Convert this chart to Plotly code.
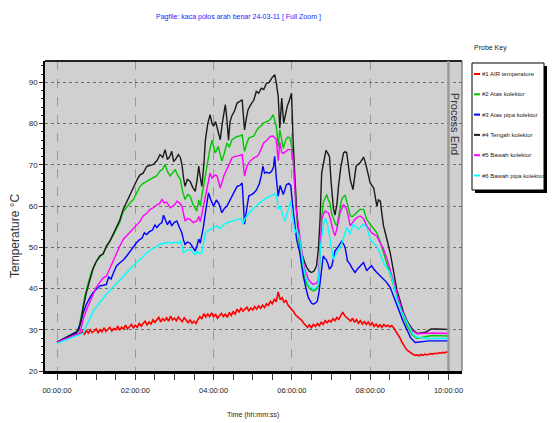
import plotly.graph_objects as go

# ---------------- data (time in hours, temperature in °C) ----------------
tick_hours = [0, 2, 4, 6, 8, 10]
tick_labels = ["00:00:00", "02:00:00", "04:00:00", "06:00:00", "08:00:00", "10:00:00"]
y_ticks = [20, 30, 40, 50, 60, 70, 80, 90]
process_end_hour = 10.0

series_names = ["#1 AIR temperature", "#2 Atas kolektor", "#3 Atas pipa kolektor",
                "#4 Tengah kolektor", "#5 Bawah kolektor", "#6 Bawah pipa kolektor"]
series_colors = ["#ff0000", "#00c800", "#0000ff", "#1a1a1a", "#ff00ff", "#00ffff"]

air_t = [round(i * 0.05, 2) for i in range(201)]
air_v = [27.0, 27.2, 27.4, 27.6, 27.8, 28.0, 28.1, 28.3, 28.4, 28.6,
         28.8, 28.9, 29.0, 29.6, 28.9, 29.8, 29.2, 30.0, 29.3, 29.7,
         30.2, 29.3, 30.0, 29.5, 30.5, 29.6, 30.0, 30.6, 29.7, 30.3,
         30.0, 30.9, 29.9, 30.6, 30.2, 31.1, 30.2, 30.8, 31.3, 30.5,
         31.1, 30.6, 31.6, 30.9, 31.5, 32.1, 31.2, 31.9, 31.4, 32.4,
         31.8, 32.3, 33.0, 31.9, 32.7, 32.2, 32.9, 32.1, 33.3, 32.4,
         32.8, 32.2, 33.1, 32.5, 32.0, 32.9, 32.3, 31.7, 32.4, 31.6,
         32.1, 31.5, 32.5, 33.2, 32.6, 33.9, 33.1, 33.8, 33.2, 34.1,
         33.1, 33.8, 32.8, 33.5, 34.0, 33.2, 33.8, 33.0, 34.2, 33.5,
         34.4, 33.8, 35.0, 34.3, 35.2, 34.5, 34.9, 35.5, 34.6, 35.3,
         34.8, 35.6, 35.0, 35.8, 35.2, 36.0, 35.4, 36.3, 35.9, 36.9,
         36.3, 37.4, 36.8, 39.2, 37.3, 37.8, 36.7, 37.1, 36.0, 35.5,
         34.9, 34.3, 33.5, 33.1, 32.5, 32.3, 31.6, 31.1, 30.6, 31.2,
         30.5, 31.3, 30.8, 31.5, 31.0, 31.8, 31.3, 32.2, 31.7, 32.3,
         31.9, 32.7, 32.2, 33.0, 32.5, 33.5, 34.3, 33.4, 32.9, 32.5,
         32.1, 32.8, 31.8, 32.5, 31.6, 32.2, 31.4, 32.0, 31.3, 31.9,
         31.1, 31.7, 30.8, 31.4, 30.7, 31.2, 30.6, 31.3, 30.8, 31.1,
         30.7, 31.0, 30.5, 29.7, 29.0, 28.2, 27.2, 26.3, 25.6, 25.0,
         24.6, 24.3, 24.0, 23.8, 23.9, 23.7, 24.0, 23.8, 24.1, 23.9,
         24.0, 24.2, 24.1, 24.3, 24.2, 24.4, 24.3, 24.5, 24.4, 24.6,
         24.6]

atas_t = [0, 0.1, 0.2, 0.3, 0.4, 0.5, 0.55, 0.6, 0.65, 0.72, 0.8, 0.88, 0.95, 1.02, 1.09, 1.18,
          1.26, 1.35, 1.45, 1.52, 1.6, 1.69, 1.78, 1.87, 1.95, 2.04, 2.12, 2.2, 2.29, 2.38, 2.46,
          2.55, 2.63, 2.7, 2.76, 2.82, 2.89, 2.95, 3.02, 3.08, 3.15, 3.21, 3.27, 3.34, 3.4, 3.47,
          3.53, 3.57, 3.62, 3.66, 3.7, 3.74, 3.83, 3.9, 3.96, 4.04, 4.12, 4.21, 4.28, 4.34, 4.4,
          4.47, 4.53, 4.6, 4.67, 4.73, 4.76, 4.79, 4.84, 4.9, 4.97, 5.03, 5.09, 5.15, 5.22, 5.28,
          5.36, 5.45, 5.52, 5.6, 5.65, 5.69, 5.74, 5.78, 5.84, 5.9, 5.95, 6.02, 6.08, 6.14, 6.2,
          6.25, 6.32, 6.38, 6.45, 6.55, 6.62, 6.67, 6.7, 6.73, 6.76, 6.8, 6.85, 6.89, 6.93, 6.97,
          7.02, 7.06, 7.12, 7.15, 7.2, 7.27, 7.32, 7.36, 7.42, 7.49, 7.55, 7.61, 7.68, 7.74, 7.83,
          7.91, 8.0, 8.09, 8.17, 8.25, 8.34, 8.42, 8.51, 8.6, 8.68, 8.8, 8.94, 9.07, 9.2, 9.3,
          9.4, 9.5, 9.6, 9.75, 10.0]
atas_v = [27.0, 27.5, 28.0, 28.5, 28.9, 29.3, 30.0, 32.5, 35.0, 38.5, 41.5, 44.0, 45.5, 46.8, 47.6, 48.6,
          50.0, 51.4, 53.2, 54.6, 56.0, 58.6, 59.8, 60.8, 61.6, 63.5, 64.8, 65.5, 66.0, 66.3, 66.9,
          67.4, 68.5, 69.0, 70.1, 68.4, 67.3, 68.0, 68.9, 67.5, 66.5, 63.5, 61.6, 62.8, 62.4, 60.5,
          59.5, 58.8, 61.5, 60.0, 62.5, 64.8, 69.7, 73.5, 76.0, 72.9, 74.5, 70.9, 73.0, 75.3, 74.3,
          76.1, 76.5, 76.9, 77.0, 77.3, 75.0, 73.3, 75.0, 76.5, 76.8, 77.0, 78.2, 79.0, 79.5, 80.2,
          80.5, 81.0, 82.2, 79.5, 74.5, 78.5, 76.0, 74.0, 76.0, 76.8, 76.5, 73.5, 64.0, 55.5, 50.0,
          46.3, 43.0, 41.0, 40.0, 39.4, 39.8, 40.6, 44.0, 50.3, 56.8, 60.8, 62.0, 62.8, 61.5, 60.8,
          58.0, 56.8, 55.5, 55.2, 57.5, 61.6, 62.3, 62.6, 60.5, 57.6, 57.5, 58.0, 58.8, 59.2, 59.2,
          56.8, 55.6, 54.4, 53.5, 51.5, 48.7, 46.5, 43.9, 41.0, 38.2, 34.5, 31.0, 28.8, 27.9, 28.1,
          28.4, 28.5, 28.6, 28.5, 28.5]

pipa_t = [0, 0.1, 0.2, 0.3, 0.4, 0.5, 0.58, 0.67, 0.75, 0.84, 0.92, 1.0, 1.09, 1.18, 1.26, 1.32,
          1.38, 1.45, 1.52, 1.6, 1.7, 1.78, 1.86, 1.95, 2.03, 2.1, 2.17, 2.23, 2.29, 2.36, 2.44,
          2.5, 2.55, 2.62, 2.68, 2.72, 2.76, 2.82, 2.88, 2.93, 2.99, 3.06, 3.12, 3.19, 3.23, 3.27,
          3.33, 3.4, 3.47, 3.53, 3.58, 3.62, 3.66, 3.7, 3.74, 3.79, 3.87, 3.93, 4.0, 4.07, 4.14,
          4.21, 4.28, 4.34, 4.4, 4.47, 4.53, 4.6, 4.67, 4.73, 4.76, 4.79, 4.84, 4.9, 4.97, 5.03,
          5.1, 5.17, 5.22, 5.26, 5.3, 5.35, 5.42, 5.48, 5.53, 5.56, 5.6, 5.65, 5.7, 5.74, 5.78,
          5.82, 5.86, 5.92, 5.97, 6.02, 6.07, 6.12, 6.2, 6.29, 6.36, 6.42, 6.5, 6.55, 6.62, 6.65,
          6.69, 6.72, 6.76, 6.8, 6.84, 6.87, 6.92, 6.96, 7.02, 7.06, 7.1, 7.19, 7.27, 7.32, 7.36,
          7.42, 7.48, 7.53, 7.61, 7.68, 7.74, 7.83, 7.91, 7.97, 8.04, 8.1, 8.17, 8.25, 8.34, 8.42,
          8.51, 8.6, 8.68, 8.77, 8.85, 8.95, 9.03, 9.15, 9.26, 9.37, 9.5, 9.7, 10.0]
pipa_v = [27.0, 27.4, 27.9, 28.3, 28.8, 29.3, 31.0, 34.2, 36.2, 37.8, 39.0, 39.8, 40.6, 40.8, 41.0, 42.8,
          42.3, 44.0, 45.5, 46.2, 47.0, 47.9, 49.0, 50.0, 51.1, 51.8, 52.2, 53.5, 53.1, 53.8, 54.2,
          55.5, 54.8, 55.6, 56.0, 57.8, 56.8, 55.5, 56.5, 55.2, 56.0, 56.4, 55.0, 53.5, 51.8, 50.7,
          51.3, 51.0, 50.0, 49.1, 50.5, 52.0, 51.0, 52.7, 55.0, 58.4, 63.2, 61.5, 60.0, 61.5, 60.5,
          58.4, 59.5, 60.0, 61.0, 62.4, 63.5, 64.8, 65.0, 65.6, 60.0, 55.6, 59.0, 62.5, 62.8, 63.2,
          64.0, 65.5, 67.5, 69.7, 68.0, 68.2, 68.0, 68.4, 69.5, 72.1, 67.0, 62.4, 65.0, 64.0, 62.8,
          64.0, 65.2, 65.5, 65.0, 60.0, 56.5, 52.0, 48.7, 43.1, 40.0, 37.8, 36.5, 36.2, 36.6, 37.0,
          39.0, 41.5, 45.0, 47.9, 47.3, 47.1, 46.0, 44.7, 45.5, 47.5, 49.1, 50.3, 51.5, 50.8, 49.9,
          46.7, 46.0, 45.1, 43.9, 44.8, 45.5, 46.3, 44.3, 45.0, 45.5, 44.6, 43.9, 43.2, 42.3, 41.5,
          40.3, 38.0, 35.8, 33.6, 31.8, 29.8, 28.1, 26.9, 27.0, 27.2, 27.3, 27.3, 27.3]

tengah_t = [0, 0.1, 0.2, 0.3, 0.4, 0.5, 0.55, 0.62, 0.67, 0.75, 0.84, 0.92, 1.0, 1.09, 1.18, 1.26,
            1.35, 1.45, 1.52, 1.6, 1.69, 1.78, 1.87, 1.95, 2.05, 2.12, 2.2, 2.29, 2.38, 2.46, 2.55,
            2.63, 2.7, 2.76, 2.82, 2.88, 2.93, 2.98, 3.04, 3.1, 3.15, 3.19, 3.23, 3.27, 3.33, 3.4,
            3.47, 3.53, 3.58, 3.62, 3.66, 3.7, 3.75, 3.79, 3.85, 3.91, 3.96, 4.0, 4.05, 4.1, 4.17,
            4.22, 4.3, 4.34, 4.38, 4.42, 4.47, 4.53, 4.6, 4.67, 4.73, 4.76, 4.79, 4.84, 4.88, 4.95,
            5.03, 5.09, 5.15, 5.22, 5.28, 5.35, 5.42, 5.48, 5.56, 5.6, 5.65, 5.69, 5.74, 5.79, 5.84,
            5.88, 5.93, 5.99, 6.03, 6.08, 6.12, 6.18, 6.25, 6.32, 6.38, 6.44, 6.5, 6.57, 6.63, 6.68,
            6.72, 6.76, 6.82, 6.87, 6.92, 6.96, 7.0, 7.02, 7.06, 7.1, 7.15, 7.19, 7.25, 7.32, 7.36,
            7.4, 7.45, 7.49, 7.56, 7.6, 7.64, 7.7, 7.74, 7.8, 7.83, 7.88, 7.91, 7.96, 8.0, 8.09,
            8.13, 8.17, 8.21, 8.26, 8.3, 8.34, 8.4, 8.45, 8.51, 8.6, 8.68, 8.77, 8.85, 8.95, 9.07,
            9.2, 9.3, 9.42, 9.5, 9.56, 9.7, 9.85, 10.0]
tengah_v = [27.0, 27.5, 28.0, 28.6, 29.0, 29.4, 29.8, 32.5, 35.5, 39.0, 42.3, 44.8, 46.5, 47.9, 48.4, 50.3,
            51.5, 53.6, 55.0, 56.5, 59.2, 61.0, 63.2, 64.8, 66.5, 67.6, 68.0, 69.6, 69.8, 70.1, 71.0,
            72.5, 71.8, 73.7, 71.3, 72.0, 73.3, 70.8, 71.5, 72.5, 71.8, 70.1, 67.0, 64.8, 66.5, 66.0,
            64.5, 63.6, 66.5, 69.7, 67.0, 64.8, 70.0, 76.0, 80.0, 82.2, 80.0, 79.4, 80.5, 78.5, 76.1,
            80.0, 84.6, 81.0, 76.0, 80.5, 82.0, 83.0, 85.0, 85.4, 85.8, 82.0, 78.5, 81.5, 83.4, 84.6,
            85.8, 87.8, 87.4, 88.6, 88.3, 89.8, 90.0, 91.0, 91.9, 90.0, 86.6, 78.9, 86.2, 80.1, 82.5,
            84.2, 85.5, 87.4, 76.0, 67.0, 59.0, 53.0, 48.7, 46.5, 45.1, 44.2, 43.9, 44.3, 45.5, 50.0,
            57.0, 68.0, 71.5, 73.5, 72.8, 72.0, 66.0, 63.0, 59.5, 57.8, 60.5, 64.8, 69.5, 72.9, 73.2,
            72.9, 69.5, 66.5, 64.0, 67.0, 69.7, 70.2, 70.5, 71.4, 71.9, 70.5, 69.3, 67.0, 65.6, 64.4,
            62.0, 60.0, 61.5, 61.2, 58.0, 55.2, 53.0, 51.0, 48.7, 44.0, 39.8, 36.8, 34.2, 32.0, 30.2,
            29.1, 29.2, 29.4, 29.9, 30.2, 30.2, 30.1, 30.1]

bawah_t = [0, 0.1, 0.2, 0.3, 0.4, 0.5, 0.58, 0.63, 0.67, 0.75, 0.84, 0.92, 1.0, 1.09, 1.18, 1.26,
           1.35, 1.44, 1.52, 1.6, 1.69, 1.8, 1.95, 2.05, 2.12, 2.2, 2.3, 2.38, 2.46, 2.55, 2.62,
           2.68, 2.74, 2.8, 2.89, 2.96, 3.02, 3.06, 3.13, 3.19, 3.23, 3.27, 3.34, 3.4, 3.48, 3.57,
           3.62, 3.66, 3.74, 3.79, 3.83, 3.91, 3.96, 4.04, 4.09, 4.17, 4.26, 4.34, 4.4, 4.47, 4.53,
           4.6, 4.67, 4.73, 4.76, 4.79, 4.85, 4.92, 5.03, 5.1, 5.15, 5.22, 5.28, 5.36, 5.45, 5.52,
           5.6, 5.65, 5.69, 5.74, 5.78, 5.84, 5.9, 5.99, 6.04, 6.1, 6.15, 6.2, 6.29, 6.35, 6.42,
           6.5, 6.55, 6.62, 6.67, 6.7, 6.73, 6.76, 6.8, 6.85, 6.9, 6.93, 6.98, 7.02, 7.06, 7.1,
           7.15, 7.23, 7.28, 7.32, 7.36, 7.4, 7.45, 7.49, 7.55, 7.61, 7.68, 7.74, 7.83, 7.91, 8.0,
           8.04, 8.17, 8.25, 8.34, 8.42, 8.51, 8.6, 8.68, 8.8, 8.94, 9.07, 9.2, 9.3, 9.46, 9.6,
           10.0]
bawah_v = [27.0, 27.4, 27.8, 28.2, 28.6, 29.0, 29.2, 31.0, 32.6, 34.8, 36.6, 38.5, 40.3, 41.5, 42.6, 43.0,
           45.0, 47.0, 48.7, 50.2, 51.9, 53.0, 54.4, 55.5, 56.3, 57.6, 58.3, 59.2, 59.6, 60.3, 60.6,
           61.6, 60.8, 61.0, 59.6, 60.0, 60.5, 61.2, 60.8, 60.0, 57.8, 56.4, 57.0, 56.8, 56.0, 56.4,
           57.5, 56.2, 60.0, 62.5, 64.8, 68.0, 66.8, 67.5, 67.3, 64.4, 67.3, 68.9, 70.5, 71.7, 72.0,
           72.1, 72.3, 72.5, 70.0, 67.3, 69.7, 70.8, 71.7, 72.0, 72.5, 74.0, 75.3, 76.0, 76.9, 77.0,
           76.2, 71.0, 75.5, 73.0, 72.8, 73.2, 73.7, 73.7, 70.5, 60.0, 56.0, 53.5, 46.3, 44.0, 42.3,
           41.3, 41.0, 41.3, 41.9, 46.0, 53.5, 56.8, 58.0, 58.8, 58.5, 58.4, 57.0, 55.2, 53.8, 52.8,
           54.5, 58.4, 59.8, 60.4, 59.8, 59.2, 57.0, 55.2, 56.0, 56.8, 57.3, 57.6, 57.0, 55.2, 54.0,
           53.5, 52.7, 51.3, 49.5, 47.5, 44.7, 41.8, 39.0, 35.0, 31.8, 29.8, 29.0, 29.1, 29.2, 29.2,
           29.1]

bpipa_t = [0, 0.1, 0.2, 0.3, 0.4, 0.5, 0.6, 0.67, 0.73, 0.79, 0.85, 0.91, 1.0, 1.08, 1.16, 1.25,
           1.35, 1.44, 1.52, 1.6, 1.7, 1.78, 1.87, 1.95, 2.03, 2.12, 2.2, 2.29, 2.38, 2.46, 2.55,
           2.65, 2.75, 2.85, 2.95, 3.03, 3.1, 3.15, 3.19, 3.23, 3.3, 3.4, 3.47, 3.53, 3.58, 3.63,
           3.7, 3.74, 3.79, 3.85, 3.91, 4.0, 4.09, 4.17, 4.26, 4.34, 4.41, 4.5, 4.6, 4.7, 4.75,
           4.8, 4.91, 5.0, 5.09, 5.17, 5.26, 5.35, 5.44, 5.52, 5.58, 5.62, 5.65, 5.7, 5.74, 5.78,
           5.82, 5.87, 5.91, 5.97, 6.02, 6.08, 6.12, 6.2, 6.29, 6.36, 6.42, 6.5, 6.55, 6.62, 6.67,
           6.7, 6.73, 6.8, 6.85, 6.9, 6.97, 7.02, 7.06, 7.15, 7.23, 7.32, 7.4, 7.49, 7.56, 7.63,
           7.7, 7.77, 7.83, 7.91, 8.0, 8.09, 8.17, 8.25, 8.34, 8.42, 8.51, 8.6, 8.68, 8.8, 8.94,
           9.1, 9.2, 9.35, 9.5, 9.7, 10.0]
bpipa_v = [26.7, 27.1, 27.5, 27.9, 28.3, 28.6, 28.9, 29.2, 30.5, 31.8, 33.0, 34.2, 35.5, 36.6, 37.4, 38.5,
           39.5, 40.3, 41.0, 41.8, 43.0, 43.9, 44.8, 45.6, 46.3, 47.0, 47.9, 48.7, 49.3, 49.8, 50.3,
           50.8, 51.0, 51.2, 51.0, 51.3, 51.0, 51.5, 50.5, 48.7, 49.2, 49.5, 48.8, 48.3, 49.0, 48.5,
           48.7, 51.0, 53.5, 54.0, 54.4, 54.8, 55.2, 54.5, 55.6, 56.0, 56.2, 56.4, 56.8, 57.0, 55.6,
           57.0, 58.4, 59.3, 60.0, 60.8, 61.4, 62.0, 62.4, 62.8, 63.0, 62.0, 59.2, 60.0, 59.0, 57.5,
           56.4, 58.0, 59.0, 61.2, 57.0, 53.5, 54.5, 52.0, 45.5, 42.5, 41.0, 40.2, 39.8, 40.2, 41.0,
           45.0, 50.3, 55.2, 57.0, 56.0, 52.3, 49.5, 47.1, 48.7, 49.9, 52.3, 54.8, 53.2, 55.6, 55.0,
           54.4, 55.2, 55.6, 54.8, 51.9, 51.0, 50.3, 48.5, 46.3, 45.0, 43.9, 40.8, 37.4, 34.5, 31.8,
           28.8, 28.2, 28.0, 27.9, 27.9, 27.9]

all_t = [air_t, atas_t, pipa_t, tengah_t, bawah_t, bpipa_t]
all_v = [air_v, atas_v, pipa_v, tengah_v, bawah_v, bpipa_v]

# ---------------- layout geometry ----------------
# The page body has an 8px margin, so the figure starts 8px right/down of the
# page origin; all pixel positions below are page pixels.
BODY = 8
PAGE_W, PAGE_H = 555, 423
PLOT_L, PLOT_R, PLOT_T, PLOT_B = 45, 462, 61, 371     # plot area in page pixels
W, H = PAGE_W - BODY, PAGE_H - BODY
ML, MT = PLOT_L - BODY, PLOT_T - BODY
MR, MB = W - (PLOT_R - BODY), H - (PLOT_B - BODY)
PW, PH = PLOT_R - PLOT_L, PLOT_B - PLOT_T


def px(x):
    return (x - PLOT_L) / PW


def py(y):
    return (PLOT_B - y) / PH


SANS = "Liberation Sans, Arial, sans-serif"

fig = go.Figure()
for name, color, t, v in zip(series_names, series_colors, all_t, all_v):
    fig.add_trace(go.Scatter(x=t, y=v, mode="lines", name=name,
                             line=dict(color=color, width=1.6 if name.startswith("#1") else 1.4),
                             showlegend=False))

shapes = []
annotations = []

# plot frame
shapes.append(dict(type="line", xref="paper", yref="paper", x0=0, x1=1, y0=1, y1=1,
                   line=dict(color="#222222", width=2)))
shapes.append(dict(type="line", xref="paper", yref="paper", x0=1, x1=1, y0=0, y1=1,
                   line=dict(color="#555555", width=1)))
# process end marker
shapes.append(dict(type="line", xref="x", yref="paper", x0=process_end_hour, x1=process_end_hour,
                   y0=0, y1=1, line=dict(color="#9a9a9a", width=2.5), layer="above"))
annotations.append(dict(text="Process End", xref="x", yref="paper", x=process_end_hour + 0.17,
                        y=py(124), textangle=90, showarrow=False, xanchor="center", yanchor="middle",
                        font=dict(family=SANS, size=11, color="#333333")))

# title & axis titles
annotations.append(dict(text="Pagfile: kaca polos arah benar 24-03-11 [ Full Zoom ]", xref="paper",
                        yref="paper", x=px(238), y=py(17), showarrow=False,
                        xanchor="center", yanchor="middle",
                        font=dict(family=SANS, size=7, color="#1a1aff")))
annotations.append(dict(text="Temperature °C", xref="paper", yref="paper", x=px(15), y=py(236),
                        textangle=-90, showarrow=False, xanchor="center", yanchor="middle",
                        font=dict(family=SANS, size=12, color="#333333")))
annotations.append(dict(text="Time (hh:mm:ss)", xref="paper", yref="paper", x=px(253), y=py(415),
                        showarrow=False, xanchor="center", yanchor="middle",
                        font=dict(family=SANS, size=7, color="#222222")))

# legend (probe key) - kept inside the visible page width
annotations.append(dict(text="Probe Key", xref="paper", yref="paper", x=px(472), y=py(48),
                        xanchor="left", yanchor="middle", showarrow=False,
                        font=dict(family=SANS, size=7, color="#222222")))
lx0, lx1, ly0, ly1 = 472, 544, 63, 190
shapes.append(dict(type="rect", xref="paper", yref="paper", x0=px(lx0 + 3), x1=px(lx1 + 3),
                   y0=py(ly1 + 3), y1=py(ly0 + 3), fillcolor="#000000", line=dict(width=0)))
shapes.append(dict(type="rect", xref="paper", yref="paper", x0=px(lx0), x1=px(lx1),
                   y0=py(ly1), y1=py(ly0), fillcolor="#ffffff", line=dict(color="#000000", width=1)))
for i, (name, color) in enumerate(zip(series_names, series_colors)):
    yy = 74 + i * 20.3
    shapes.append(dict(type="line", xref="paper", yref="paper", x0=px(474), x1=px(480),
                       y0=py(yy), y1=py(yy), line=dict(color=color, width=2)))
    annotations.append(dict(text=name, xref="paper", yref="paper", x=px(480), y=py(yy),
                            xanchor="left", yanchor="middle", showarrow=False,
                            font=dict(family=SANS, size=6, color="#222222")))

fig.update_layout(
    width=W, height=H,
    margin=dict(l=ML, r=MR, t=MT, b=MB, autoexpand=False),
    paper_bgcolor="#ffffff", plot_bgcolor="#d0d0d0",
    showlegend=False,
    shapes=shapes, annotations=annotations,
    xaxis=dict(range=[-0.307, 10.345], tickvals=tick_hours, ticktext=tick_labels,
               ticks="outside", ticklen=6, tickcolor="#333333", ticklabelstandoff=4,
               tickfont=dict(family=SANS, size=7.5, color="#222222"),
               showgrid=True, gridcolor="#9a9a9a", griddash="dash", gridwidth=1,
               minor=dict(dtick=0.5, tick0=0, ticks="outside", ticklen=6, tickcolor="#333333",
                          showgrid=False),
               showline=True, linecolor="#000000", linewidth=3, zeroline=False, fixedrange=True),
    yaxis=dict(range=[20, 95.2], tickvals=y_ticks, ticks="outside", ticklen=4, tickcolor="#333333",
               tickfont=dict(family=SANS, size=8, color="#222222"),
               showgrid=True, gridcolor="#6e6e6e", griddash="dot", gridwidth=1,
               minor=dict(dtick=2, tick0=20, ticks="outside", ticklen=2, tickcolor="#333333",
                          showgrid=False),
               showline=True, linecolor="#000000", linewidth=1.5, zeroline=False, fixedrange=True),
)

fig.write_html("out.html")
